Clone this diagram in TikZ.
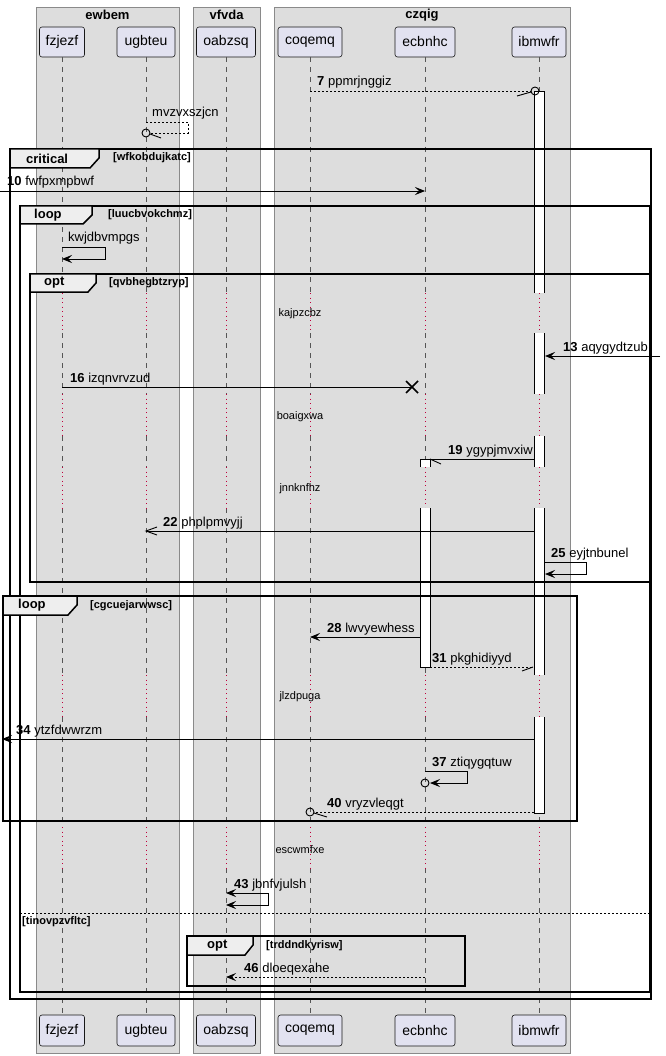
\documentclass[tikz,border=0pt]{standalone}
\usepackage{fontspec}
\setmainfont{Liberation Sans}
\usetikzlibrary{arrows.meta}
\definecolor{grpfill}{HTML}{DDDDDD}
\definecolor{grpdraw}{HTML}{8A8A8A}
\definecolor{partfill}{HTML}{E2E2F0}
\definecolor{partdraw}{HTML}{181818}
\definecolor{lifec}{HTML}{555555}
\definecolor{delayc}{HTML}{C0003C}
\definecolor{tabfill}{HTML}{EEEEEE}
\newcommand{\msgsz}{\fontsize{13}{15}\selectfont}
\newcommand{\partsz}{\fontsize{14}{16}\selectfont}
\newcommand{\guardsz}{\fontsize{11}{13}\selectfont\bfseries}
\newcommand{\delaysz}{\fontsize{11}{13}\selectfont}
\tikzset{
  grp/.style={fill=grpfill, draw=grpdraw, line width=0.7pt},
  gtitle/.style={font=\msgsz\bfseries, inner sep=0pt},
  part/.style={draw=partdraw, fill=partfill, rounded corners=2.5pt, line width=0.6pt, font=\partsz, inner sep=2pt},
  life/.style={draw=lifec, dash pattern=on 5pt off 5pt, line width=0.7pt},
  delayl/.style={draw=delayc, dash pattern=on 1pt off 3.5pt, line width=0.8pt},
  actfill/.style={fill=white},
  actbar/.style={draw=black, line width=0.8pt},
  msg/.style={draw=black, line width=0.9pt},
  retm/.style={msg, dash pattern=on 2pt off 2pt},
  fh/.style={-{Stealth[length=10pt,width=8pt,inset=4pt]}},
  fhb/.style={{Stealth[length=10pt,width=8pt,inset=4pt]}-{Stealth[length=10pt,width=8pt,inset=4pt]}},
  frm/.style={draw=black, line width=1.5pt},
  ftab/.style={fill=tabfill, draw=black, line width=1.5pt},
  flabel/.style={anchor=west, inner sep=0pt, font=\msgsz\bfseries},
  guard/.style={anchor=west, inner sep=0pt, font=\guardsz},
  lbl/.style={anchor=base west, inner sep=0pt, font=\msgsz},
  dtext/.style={inner sep=0pt, font=\delaysz},
}
\begin{document}
\begin{tikzpicture}[x=1pt,y=-1pt]
\useasboundingbox (0,0) rectangle (665,1056);
\fill[white] (0,0) rectangle (665,1056);

% group boxes
\draw[grp] (36,7) rectangle (179,1053);
\draw[grp] (193,7) rectangle (260,1053);
\draw[grp] (274,7) rectangle (570,1053);
\node[gtitle] (g1) at (107.5,15) {ewbem};
\node[gtitle] (g2) at (226.5,15) {vfvda};
\node[gtitle] (g3) at (422,15) {czqig};

% participants top
\node[part, minimum width=45pt, minimum height=30pt] (fzjezf) at (62,42) {fzjezf};
\node[part, minimum width=58pt, minimum height=30pt] (ugbteu) at (146,42) {ugbteu};
\node[part, minimum width=59pt, minimum height=30pt] (oabzsq) at (226,42) {oabzsq};
\node[part, minimum width=64pt, minimum height=30pt] (coqemq) at (310,42) {coqemq};
\node[part, minimum width=60pt, minimum height=30pt] (ecbnhc) at (425,42) {ecbnhc};
\node[part, minimum width=54pt, minimum height=30pt] (ibmwfr) at (539,42) {ibmwfr};
% participants bottom
\node[part, minimum width=45pt, minimum height=31pt] (fzjezfB) at (62,1030.5) {fzjezf};
\node[part, minimum width=58pt, minimum height=31pt] (ugbteuB) at (146,1030.5) {ugbteu};
\node[part, minimum width=59pt, minimum height=31pt] (oabzsqB) at (226,1030.5) {oabzsq};
\node[part, minimum width=64pt, minimum height=31pt] (coqemqB) at (310,1030.5) {coqemq};
\node[part, minimum width=60pt, minimum height=31pt] (ecbnhcB) at (425,1030.5) {ecbnhc};
\node[part, minimum width=54pt, minimum height=31pt] (ibmwfrB) at (539,1030.5) {ibmwfr};

% lifelines
\foreach \p in {fzjezf,ugbteu,oabzsq,coqemq,ecbnhc,ibmwfr} {
  \foreach \a/\b in {57/293,333/394,436/467,508/675,717/827,868/1015}
    \draw[life] (\p |- 0,\a) -- (\p |- 0,\b);
  \foreach \a/\b in {293/333,394/436,467/508,675/717,827/868}
    \draw[delayl] (\p |- 0,\a) -- (\p |- 0,\b);
}

% activation bars (open ends where a delay interrupts them)
\foreach \a/\b in {91/293,333/394,436/467,508/675,717/813}
  \fill[actfill] (534,\a) rectangle (544,\b);
\foreach \a/\b in {459/467,508/667}
  \fill[actfill] (420,\a) rectangle (430,\b);
\draw[actbar] (534,293) -- (534,91) -- (544,91) -- (544,293);
\draw[actbar] (534,333) -- (534,394) (544,333) -- (544,394);
\draw[actbar] (534,436) -- (534,467) (544,436) -- (544,467);
\draw[actbar] (534,508) -- (534,675) (544,508) -- (544,675);
\draw[actbar] (534,717) -- (534,813) -- (544,813) -- (544,717);
\draw[actbar] (420,467) -- (420,459) -- (430,459) -- (430,467);
\draw[actbar] (420,508) -- (420,667) -- (430,667) -- (430,508);

% delay texts
\node[dtext] (d1) at (300,314) {kajpzcbz};
\node[dtext] (d2) at (300,417) {boaigxwa};
\node[dtext] (d3) at (300,489) {jnnknfhz};
\node[dtext] (d4) at (300,697) {jlzdpuga};
\node[dtext] (d5) at (300,850) {escwmfxe};

% frames
\draw[frm] (10,149) rectangle (651,999);
\draw[ftab] (10,149) -- (99,149) -- (99,158) -- (90,168) -- (10,168) -- cycle;
\node[flabel] (fc) at (26,158.5) {critical};
\node[guard] (gc) at (113,158) {[wfkobdujkatc]};

\draw[frm] (20,206) rectangle (650,992);
\draw[ftab] (20,206) -- (92,206) -- (92,215) -- (83,224) -- (20,224) -- cycle;
\node[flabel] (fl1) at (34,215) {loop};
\node[guard] (gl1) at (108,215) {[luucbvokchmz]};
\draw[line width=0.8pt, dash pattern=on 2pt off 2pt] (20,913) -- (650,913);
\node[guard] (ge) at (22,922) {[tinovpzvfltc]};

\draw[frm] (30,274) rectangle (650,582);
\draw[ftab] (30,274) -- (96,274) -- (96,283) -- (88,292) -- (30,292) -- cycle;
\node[flabel] (fo1) at (44,283) {opt};
\node[guard] (go1) at (109,283) {[qvbhegbtzryp]};

\draw[frm] (3,596) rectangle (577,821);
\draw[ftab] (3,596) -- (77,596) -- (77,605) -- (68,615) -- (3,615) -- cycle;
\node[flabel] (fl2) at (18,605.5) {loop};
\node[guard] (gl2) at (90,606) {[cgcuejarwwsc]};

\draw[frm] (187,936) rectangle (465,986);
\draw[ftab] (187,936) -- (253,936) -- (253,945) -- (245,955) -- (187,955) -- cycle;
\node[flabel] (fo2) at (207,945.5) {opt};
\node[guard] (go2) at (266,945.5) {[trddndkyrisw]};

% messages
% 7
\draw[retm] (coqemq |- 0,91) -- (531,91);
\draw[msg] (535,91) circle[radius=4];
\draw[msg] (531,92) -- (517,96);
\node[lbl] (l7) at (317,86) {\textbf{7} ppmrjnggiz};
% self mvzvxszjcn
\draw[retm] (ugbteu |- 0,122) -- (188,122) -- (188,133) -- (150,133);
\draw[msg] (146,133) circle[radius=4];
\draw[msg] (150,134) -- (161,138);
\node[lbl] (lm) at (152,117) {mvzvxszjcn};
% 10
\draw[msg, fh] (0,191) -- (ecbnhc |- 0,191);
\node[lbl] (l10) at (7,186) {\textbf{10} fwfpxmpbwf};
% kwjdbvmpgs
\draw[msg, fh] (fzjezf |- 0,247) -- (105,247) -- (105,259) -- (fzjezf |- 0,259);
\node[lbl] (lk) at (68,242) {kwjdbvmpgs};
% 13
\draw[msg, fh] (660,356) -- (545,356);
\node[lbl] (l13) at (563,351) {\textbf{13} aqygydtzub};
% 16
\draw[msg] (fzjezf |- 0,387) -- (412,387);
\draw[line width=1.6pt] (406,381) -- (418,393) (406,393) -- (418,381);
\node[lbl] (l16) at (70,382) {\textbf{16} izqnvrvzud};
% 19
\draw[msg] (534,459) -- (430,459);
\draw[msg] (430,459) -- (441,464);
\node[lbl] (l19) at (448,454) {\textbf{19} ygypjmvxiw};
% 22
\draw[msg] (534,531) -- (ugbteu |- 0,531);
\draw[msg] (157,527) -- (146,531) -- (157,535);
\node[lbl] (l22) at (163,526) {\textbf{22} phplpmvyjj};
% 25
\draw[msg, fh] (545,562) -- (586,562) -- (586,574) -- (545,574);
\node[lbl] (l25) at (551,557) {\textbf{25} eyjtnbunel};
% 28
\draw[msg, fh] (420,637) -- (coqemq |- 0,637);
\node[lbl] (l28) at (327,632) {\textbf{28} lwvyewhess};
% 31
\draw[retm] (430,667) -- (533,667);
\draw[msg] (533,667) -- (522,671);
\node[lbl] (l31) at (432,662) {\textbf{31} pkghidiyyd};
% 34
\draw[msg, fh] (534,739) -- (2,739);
\node[lbl] (l34) at (16,734) {\textbf{34} ytzfdwwrzm};
% 37
\draw[msg, fh] (ecbnhc |- 0,771) -- (467,771) -- (467,783) -- (430,783);
\draw[msg] (ecbnhc |- 0,783) circle[radius=4];
\node[lbl] (l37) at (432,766) {\textbf{37} ztiqygqtuw};
% 40
\draw[retm] (534,812) -- (314,812);
\draw[msg] (coqemq |- 0,812) circle[radius=4];
\draw[msg] (314,813) -- (327,817);
\node[lbl] (l40) at (327,807) {\textbf{40} vryzvleqgt};
% 43
\draw[msg, fhb] (oabzsq |- 0,893) -- (268,893) -- (268,905) -- (oabzsq |- 0,905);
\node[lbl] (l43) at (234,888) {\textbf{43} jbnfvjulsh};
% 46
\draw[retm, fh] (ecbnhc |- 0,977) -- (oabzsq |- 0,977);
\node[lbl] (l46) at (244,972) {\textbf{46} dloeqexahe};
\end{tikzpicture}
\end{document}
